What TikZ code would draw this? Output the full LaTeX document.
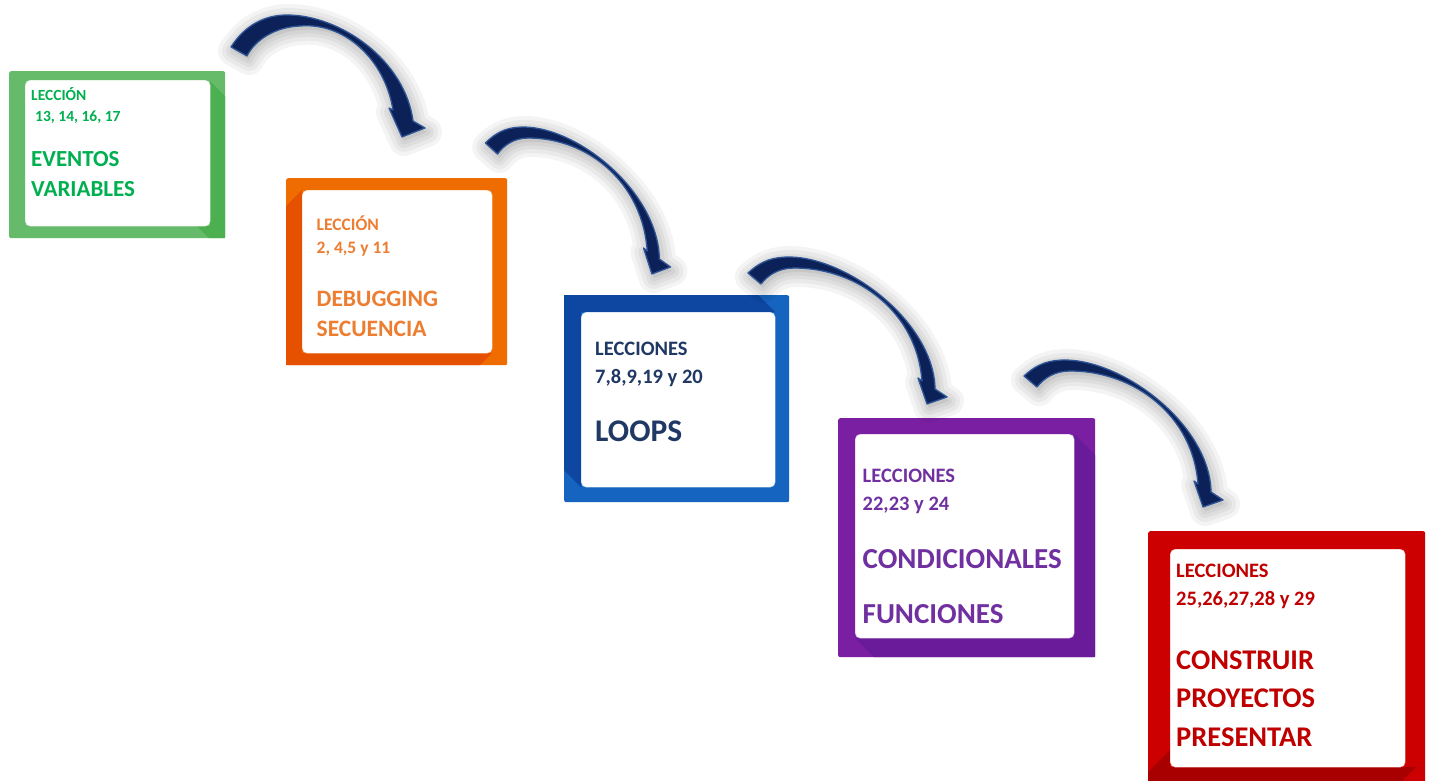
\documentclass[tikz,border=0pt]{standalone}
\usepackage{fontspec}
\setmainfont{Carlito}
\definecolor{gLight}{HTML}{66BB6A}
\definecolor{gDark}{HTML}{4CAF50}
\definecolor{gText}{HTML}{00B050}
\definecolor{oLight}{HTML}{EF6C00}
\definecolor{oDark}{HTML}{E65100}
\definecolor{oText}{HTML}{ED7D31}
\definecolor{bLight}{HTML}{1565C0}
\definecolor{bDark}{HTML}{0D47A1}
\definecolor{bText}{HTML}{203864}
\definecolor{pLight}{HTML}{7B1FA2}
\definecolor{pDark}{HTML}{6A1B9A}
\definecolor{pText}{HTML}{7030A0}
\definecolor{rLight}{HTML}{CC0000}
\definecolor{rDark}{HTML}{A80000}
\definecolor{rText}{HTML}{C00000}
\definecolor{navyFill}{HTML}{0B2157}
\definecolor{navyEdge}{HTML}{2F5597}
\newcommand\fsz[1]{\fontsize{#1}{#1}\selectfont}
\newcommand\arrowOne{(231,47) .. controls (245,25) and (265,15) .. (287,15) .. controls (340,15) and (405,60) .. (413,121) -- (425,128) -- (402,137) -- (389,108) -- (393,110) .. controls (385,60) and (345,22) .. (300,26) .. controls (275,27) and (255,40) .. (247,56) -- cycle}
\newcommand\arrowStd{(-6,-5) .. controls (8,-18) and (20,-21) .. (36,-21) .. controls (95,-20) and (180,45) .. (181,111) -- (193,119) -- (173,126) -- (164,100) -- (168,103) .. controls (163,35) and (105,-10) .. (40,-10) .. controls (25,-10) and (14,-3) .. (7,6) -- cycle}
\newcommand\drawarrow[2]{%
  \begin{scope}[#1]
    \foreach \w in {30,22,14,7}{\draw[black, opacity=0.045, line width=\w pt, line join=round, shift={(2,4)}] #2;}
    \fill[black, opacity=0.06, shift={(2,4)}] #2;
    \filldraw[fill=navyFill, draw=navyEdge, line width=1.3pt, line join=round] #2;
  \end{scope}}
\tikzset{
  outerbox/.style={rectangle, rounded corners=2pt, inner sep=0pt, anchor=north west},
  innerbox/.style={rectangle, rounded corners=5pt, inner sep=0pt, anchor=north west, fill=white},
  lbl/.style={anchor=base west, inner sep=0pt}
}
\begin{document}
\begin{tikzpicture}[x=1pt, y=-1pt]
\useasboundingbox (0,0) rectangle (1432,780);
\fill[white] (0,0) rectangle (1432,780);

% ---- Box 1 (green)
\node[outerbox, fill=gLight, minimum width=216pt, minimum height=167pt] (b1) at (9,71) {};
\fill[gDark] (210,81) -- (225,96) -- (225,238) -- (209,238) -- (197,226) -- (210,226) -- cycle;
\node[innerbox, draw=gLight!40, minimum width=185pt, minimum height=146pt] (w1) at (25,80) {};
\node[lbl, text=gText, font=\bfseries\fsz{15.5}] (t1a) at (31,100) {LECCIÓN};
\node[lbl, text=gText, font=\bfseries\fsz{15.5}] (t1b) at (35,121.5) {13, 14, 16, 17};
\node[lbl, text=gText, font=\bfseries\fsz{23}] (t1c) at (31,166) {EVENTOS};
\node[lbl, text=gText, font=\bfseries\fsz{23}] (t1d) at (31,196.5) {VARIABLES};

% ---- Box 2 (orange)
\node[outerbox, fill=oLight, minimum width=221pt, minimum height=187pt] (b2) at (286,178) {};
\fill[oDark] (302,190) -- (286,206) -- (286,365) -- (480,365) -- (492,353) -- (302,353) -- cycle;
\node[innerbox, draw=oLight!40, minimum width=190pt, minimum height=163pt] (w2) at (302,190) {};
\node[lbl, text=oText, font=\bfseries\fsz{17.5}] (t2a) at (316.5,230.5) {LECCIÓN};
\node[lbl, text=oText, font=\bfseries\fsz{17.5}] (t2b) at (316.5,253) {2, 4,5 y 11};
\node[lbl, text=oText, font=\bfseries\fsz{23.5}] (t2c) at (316.5,306.5) {DEBUGGING};
\node[lbl, text=oText, font=\bfseries\fsz{23.5}] (t2d) at (316.5,336.5) {SECUENCIA};

% ---- Box 3 (blue)
\node[outerbox, fill=bLight, minimum width=225pt, minimum height=207pt] (b3) at (564,295) {};
\fill[bDark] (564,295) -- (758,295) -- (775,312) -- (581,312) -- (581,487) -- (564,470) -- cycle;
\node[innerbox, draw=bLight!40, minimum width=194pt, minimum height=175pt] (w3) at (581,312) {};
\node[lbl, text=bText, font=\bfseries\fsz{20.5}] (t3a) at (595,355) {LECCIONES};
\node[lbl, text=bText, font=\bfseries\fsz{20.5}] (t3b) at (595,383) {7,8,9,19 y 20};
\node[lbl, text=bText, font=\bfseries\fsz{31.5}] (t3c) at (595,441.5) {LOOPS};

% ---- Box 4 (purple)
\node[outerbox, fill=pLight, minimum width=257pt, minimum height=239pt] (b4) at (838,418) {};
\fill[pDark] (1074,434) -- (1095,455) -- (1095,657) -- (874,657) -- (855,638) -- (1074,638) -- cycle;
\node[innerbox, draw=pLight!40, minimum width=219pt, minimum height=204pt] (w4) at (855,434) {};
\node[lbl, text=pText, font=\bfseries\fsz{20.5}] (t4a) at (862.5,482.5) {LECCIONES};
\node[lbl, text=pText, font=\bfseries\fsz{20.5}] (t4b) at (862.5,510) {22,23 y 24};
\node[lbl, text=pText, font=\bfseries\fsz{29}] (t4c) at (862.5,568) {CONDICIONALES};
\node[lbl, text=pText, font=\bfseries\fsz{29}] (t4d) at (862.5,623) {FUNCIONES};

% ---- Box 5 (red)
\node[outerbox, fill=rLight, minimum width=277pt, minimum height=259pt] (b5) at (1148,531) {};
\fill[rDark] (1170,750) -- (1148,772) -- (1148,790) -- (1393,790) -- (1416,767) -- (1170,767) -- cycle;
\node[innerbox, draw=rLight!40, minimum width=235pt, minimum height=218pt] (w5) at (1170,549) {};
\node[lbl, text=rText, font=\bfseries\fsz{20.5}] (t5a) at (1176,577) {LECCIONES};
\node[lbl, text=rText, font=\bfseries\fsz{20.5}] (t5b) at (1176,605.5) {25,26,27,28 y 29};
\node[lbl, text=rText, font=\bfseries\fsz{28.5}] (t5c) at (1176,669) {CONSTRUIR};
\node[lbl, text=rText, font=\bfseries\fsz{28.5}] (t5d) at (1176,707.5) {PROYECTOS};
\node[lbl, text=rText, font=\bfseries\fsz{28.5}] (t5e) at (1176,746.5) {PRESENTAR};

% ---- Curved arrows
\coordinate (a2s) at (491,148);
\coordinate (a3s) at (754,278);
\coordinate (a4s) at (1030,381);
\drawarrow{}{\arrowOne}
\drawarrow{shift={(a2s)}, xscale=0.93}{\arrowStd}
\drawarrow{shift={(a3s)}}{\arrowStd}
\drawarrow{shift={(a4s)}}{\arrowStd}
\end{tikzpicture}
\end{document}
